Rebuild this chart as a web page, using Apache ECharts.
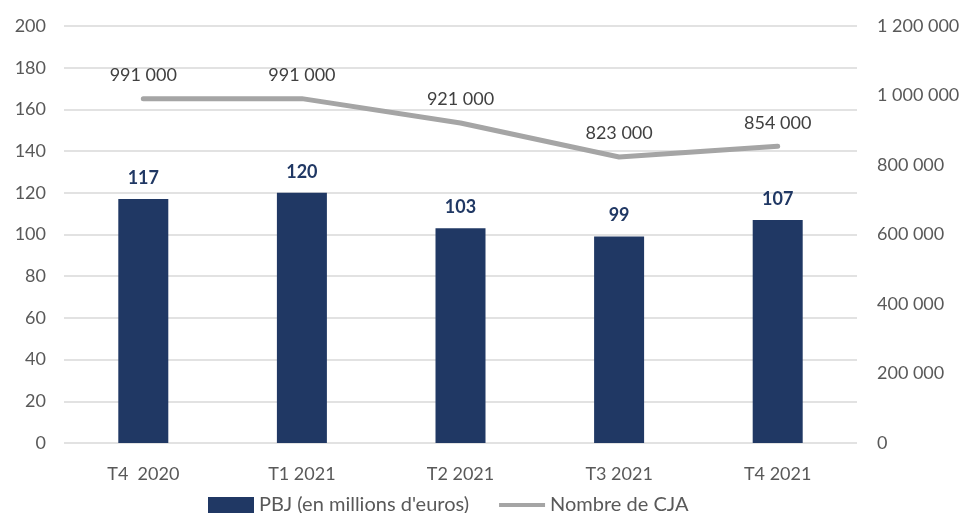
<!DOCTYPE html>
<html>
<head>
<meta charset="utf-8">
<script src="https://cdn.jsdelivr.net/npm/echarts@6/dist/echarts.min.js"></script>
<style>
  html, body { margin: 0; padding: 0; background: #fff; }
  #charts { width: 965px; height: 513px; }
</style>
</head>
<body>
<div id="charts"></div>
<script>
var categories = ['T4  2020', 'T1 2021', 'T2 2021', 'T3 2021', 'T4 2021'];
var pbjData = [117, 120, 103, 99, 107];
var cjaData = [991000, 991000, 921000, 823000, 854000];

// format "1 200 000"
function spaced(v) {
    return String(v).replace(/\B(?=(\d{3})+(?!\d))/g, ' ');
}

var myChart = echarts.init(document.getElementById('charts'));
var font = 'Lato';

var option = {
    animation: false,
    textStyle: { fontFamily: font },
    grid: { left: 64, right: 108, top: 26, bottom: 70 },
    legend: {
        bottom: -7,
        left: 203,
        itemGap: 30,
        itemWidth: 46,
        itemHeight: 16,
        textStyle: { fontSize: 20, color: '#595959', fontFamily: font },
        data: [
            { name: "PBJ (en millions d'euros)", icon: 'rect' },
            { name: 'Nombre de CJA', icon: 'path://M0,0 M0,16 M0,6 L46,6 L46,10 L0,10 Z' }
        ]
    },
    xAxis: {
        type: 'category',
        data: categories,
        axisLine: { show: false },
        axisTick: { show: false },
        axisLabel: { color: '#595959', fontSize: 18, margin: 22 }
    },
    yAxis: [
        {
            type: 'value', min: 0, max: 200, interval: 20,
            axisLine: { show: false }, axisTick: { show: false },
            axisLabel: { color: '#595959', fontSize: 18, margin: 18 },
            splitLine: { lineStyle: { color: '#d9d9d9', width: 1.5 } }
        },
        {
            type: 'value', min: 0, max: 1200000, interval: 200000,
            axisLine: { show: false }, axisTick: { show: false },
            axisLabel: { color: '#595959', fontSize: 18, margin: 20, formatter: spaced },
            splitLine: { show: false }
        }
    ],
    series: [
        {
            name: "PBJ (en millions d'euros)",
            type: 'bar',
            data: pbjData,
            barWidth: 50,
            itemStyle: { color: '#203864' },
            label: {
                show: true, position: 'top', distance: 12,
                color: '#203864', fontWeight: 'bold', fontSize: 18
            }
        },
        {
            name: 'Nombre de CJA',
            type: 'line',
            yAxisIndex: 1,
            data: cjaData,
            symbol: 'circle',
            symbolSize: 1,
            showSymbol: true,
            lineStyle: { color: '#a5a5a5', width: 5, cap: 'round', join: 'round' },
            itemStyle: { color: '#a5a5a5' },
            label: {
                show: true, position: 'top', distance: 14,
                color: '#404040', fontSize: 18, formatter: function (p) { return spaced(p.value); }
            }
        }
    ]
};
myChart.setOption(option);
window.addEventListener('resize', function () {
    myChart.resize();
});
</script>
</body>
</html>
